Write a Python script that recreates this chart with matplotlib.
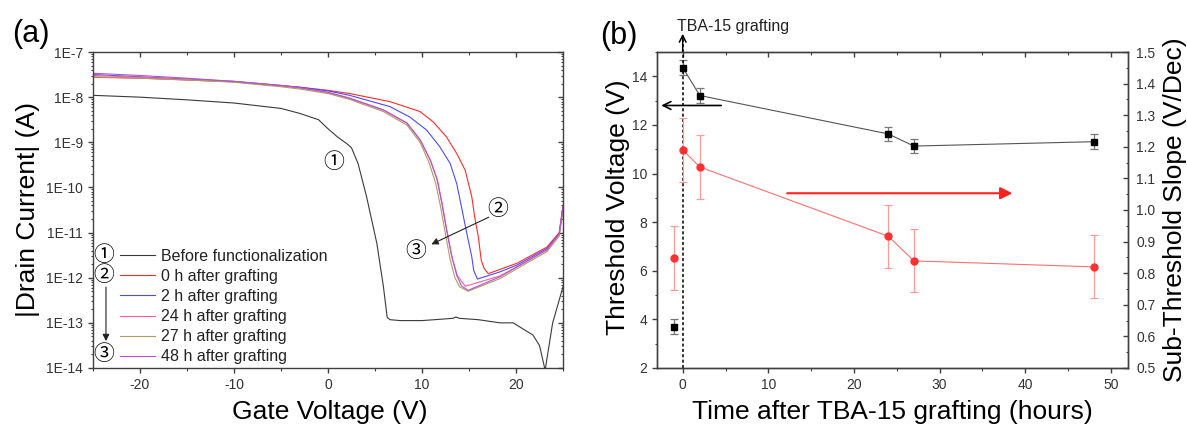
import numpy as np
import matplotlib
matplotlib.use('Agg')
import matplotlib.pyplot as plt
from matplotlib.ticker import FixedLocator, MultipleLocator, LogLocator, NullFormatter

plt.rcParams['font.family'] = ['Liberation Sans', 'DejaVu Sans']
plt.rcParams['axes.unicode_minus'] = False

# ---------------- Panel (a) data: gate voltage (V) and log10|Id| (A) ----------------
v_before = [-25, -20, -15, -10, -5, -3, -1, 0, 1, 2, 2.5, 3.2, 4.1, 5.2, 5.9, 6.3, 6.6, 7.7, 10,
            13.3, 13.6, 14, 16, 18.3, 19.7, 21.8, 22.5, 23.1, 23.9, 24.7, 25]
logi_before = [-7.96, -8.0, -8.06, -8.13, -8.25, -8.36, -8.5, -8.7, -8.88, -9.03, -9.12, -9.47, -10.2,
               -11.24, -12.2, -12.88, -12.93, -12.95, -12.95, -12.9, -12.87, -12.9, -12.93, -13.0,
               -13.0, -13.27, -13.5, -14.05, -13.0, -12.42, -12.2]

v_0h = [-25, -20, -15, -10, -5, -3, 0, 2.3, 6.6, 9.8, 11.2, 12.6, 13.7, 14.6, 15.3, 15.6, 16.0, 16.3,
        16.6, 17.05, 20.1, 23.3, 24.6, 25]
logi_0h = [-7.56, -7.58, -7.62, -7.66, -7.75, -7.78, -7.85, -7.92, -8.10, -8.32, -8.55, -8.88, -9.25,
           -9.62, -10.21, -10.65, -11.1, -11.61, -11.79, -11.91, -11.68, -11.32, -11.0, -10.4]

v_2h = [-25, -20, -15, -10, -5, -3, 0, 2.3, 6.6, 8.7, 10.5, 11.9, 13.0, 13.7, 14.2, 14.7, 15.3, 15.5,
        15.9, 18.3, 20.1, 23.3, 24.6, 25]
logi_2h = [-7.5, -7.55, -7.6, -7.65, -7.74, -7.78, -7.86, -7.96, -8.21, -8.44, -8.73, -9.1, -9.47,
           -9.92, -10.43, -10.95, -11.54, -11.84, -12.03, -11.87, -11.72, -11.35, -11.02, -10.42]

v_24h = [-25, -20, -15, -10, -5, -3, 0, 2.3, 5.9, 8.4, 9.8, 10.9, 11.65, 12.15, 12.65, 13.2, 13.75,
         14.6, 18.3, 20.1, 23.3, 24.6, 25]
logi_24h = [-7.52, -7.56, -7.61, -7.66, -7.75, -7.8, -7.9, -8.03, -8.29, -8.58, -8.95, -9.4, -9.84,
            -10.36, -10.95, -11.54, -11.95, -12.19, -11.96, -11.76, -11.38, -11.04, -10.45]

v_27h = [-25, -20, -15, -10, -5, -3, 0, 2.3, 5.9, 8.4, 9.8, 10.75, 11.45, 11.95, 12.45, 13.0, 13.5,
         14.0, 14.9, 18.3, 20.1, 23.3, 24.6, 25]
logi_27h = [-7.55, -7.58, -7.62, -7.67, -7.77, -7.82, -7.92, -8.05, -8.32, -8.62, -9.0, -9.45, -9.9,
            -10.4, -10.98, -11.6, -12.0, -12.2, -12.3, -12.02, -11.8, -11.42, -11.08, -10.5]

v_48h = [-25, -20, -15, -10, -5, -3, 0, 2.3, 5.9, 8.4, 9.8, 10.85, 11.6, 12.1, 12.6, 13.15, 13.7,
         14.2, 14.9, 18.3, 20.1, 23.3, 24.6, 25]
logi_48h = [-7.47, -7.52, -7.58, -7.65, -7.74, -7.79, -7.89, -8.02, -8.28, -8.57, -8.94, -9.38, -9.82,
            -10.34, -10.93, -11.52, -11.95, -12.18, -12.28, -11.98, -11.76, -11.38, -11.03, -10.45]

labels_a = ['Before functionalization', '0 h after grafting', '2 h after grafting',
            '24 h after grafting', '27 h after grafting', '48 h after grafting']
colors_a = ['#3a3a3a', '#ff2a2a', '#4a4aff', '#ff5aa8', '#a8a060', '#b455c8']

xticks_a = [-20, -10, 0, 10, 20]
yticks_a = [1e-14, 1e-13, 1e-12, 1e-11, 1e-10, 1e-9, 1e-8, 1e-7]
yticklabels_a = ['1E-14', '1E-13', '1E-12', '1E-11', '1E-10', '1E-9', '1E-8', '1E-7']

# ---------------- Panel (b) data ----------------
t_hours = [-1, 0, 2, 24, 27, 48]
vth = [3.7, 14.36, 13.21, 11.63, 11.13, 11.31]
vth_err = [0.3, 0.3, 0.3, 0.3, 0.3, 0.3]
ss = [0.848, 1.19, 1.136, 0.917, 0.839, 0.82]
ss_err = [0.1, 0.1, 0.1, 0.1, 0.1, 0.1]

TICK_C = '#333333'
SPINE_C = '#404040'
FS_LAB = 19
FS_TICK = 10
CJK = ['Noto Sans CJK SC', 'DejaVu Sans']
FS_CIRC = 15

fig = plt.figure(figsize=(11.87, 4.28), dpi=100)
axa = fig.add_axes([0.0783, 0.1402, 0.396, 0.7383])
axb = fig.add_axes([0.5535, 0.1402, 0.3968, 0.7383])


def style_spines(ax):
    for s in ax.spines.values():
        s.set_color(SPINE_C)
        s.set_linewidth(1.0)


# ---------------- Panel (a) ----------------
curves = [(v_before, logi_before), (v_0h, logi_0h), (v_2h, logi_2h),
          (v_24h, logi_24h), (v_27h, logi_27h), (v_48h, logi_48h)]
handles = []
for (v, li), lab, c in zip(curves, labels_a, colors_a):
    h, = axa.plot(v, 10.0 ** np.asarray(li), color=c, lw=0.8, label=lab)
    handles.append(h)

axa.set_yscale('log')
axa.set_xlim(-25, 25)
axa.set_ylim(1e-14, 1e-7)
axa.set_xticks(xticks_a)
axa.xaxis.set_minor_locator(MultipleLocator(5))
axa.set_yticks(yticks_a, yticklabels_a)
axa.yaxis.set_minor_locator(LogLocator(base=10, subs=np.arange(2, 10), numticks=20))
axa.yaxis.set_minor_formatter(NullFormatter())
axa.tick_params(which='both', direction='out', colors=SPINE_C, labelcolor=TICK_C,
                labelsize=FS_TICK, top=False, right=False)
axa.tick_params(which='major', length=3.6, width=1.0, pad=3.5)
axa.tick_params(which='minor', length=1.8, width=0.8)
style_spines(axa)

sa_top = axa.secondary_xaxis('top')
sa_top.set_xticks(xticks_a, [])
sa_top.xaxis.set_minor_locator(MultipleLocator(5))
sa_top.tick_params(which='both', direction='in', colors=SPINE_C)
sa_top.tick_params(which='major', length=3.6, width=1.0)
sa_top.tick_params(which='minor', length=1.8, width=0.8)
sa_top.spines['top'].set_visible(False)

sa_right = axa.secondary_yaxis('right')
sa_right.set_yticks(yticks_a, [])
sa_right.yaxis.set_minor_locator(LogLocator(base=10, subs=np.arange(2, 10), numticks=20))
sa_right.yaxis.set_minor_formatter(NullFormatter())
sa_right.tick_params(which='both', direction='in', colors=SPINE_C)
sa_right.tick_params(which='major', length=3.6, width=1.0)
sa_right.tick_params(which='minor', length=1.8, width=0.8)
sa_right.spines['right'].set_visible(False)

axa.set_xlabel('Gate Voltage (V)', fontsize=FS_LAB)
axa.set_ylabel('|Drain Current| (A)', fontsize=FS_LAB)
axa.xaxis.set_label_coords(0.504, -0.1)
axa.yaxis.set_label_coords(-0.113, 0.5)

leg = axa.legend(handles=handles, loc='upper left', bbox_to_anchor=(0.0574, 0.377),
                 frameon=False, fontsize=11.5, borderpad=0, borderaxespad=0,
                 handlelength=2.2, handletextpad=0.35, labelspacing=0.32)
for t in leg.get_texts():
    t.set_color('#222222')

# circled markers next to legend and on curves
axa.text(0.0234, 0.358, '\u2460', transform=axa.transAxes, ha='center', va='center', fontsize=FS_CIRC, family=CJK)
axa.text(0.0234, 0.295, '\u2461', transform=axa.transAxes, ha='center', va='center', fontsize=FS_CIRC, family=CJK)
axa.text(0.0234, 0.044, '\u2462', transform=axa.transAxes, ha='center', va='center', fontsize=FS_CIRC, family=CJK)
axa.annotate('', xy=(0.0277, 0.085), xytext=(0.0277, 0.256), xycoords='axes fraction',
             arrowprops=dict(arrowstyle='-|>', color='#222222', lw=0.8, mutation_scale=10,
                             shrinkA=0, shrinkB=0))
axa.text(0.64, 10 ** -9.44, '\u2460', ha='center', va='center', fontsize=FS_CIRC, family=CJK)
axa.text(18.1, 10 ** -10.48, '\u2461', ha='center', va='center', fontsize=FS_CIRC, family=CJK)
axa.text(9.36, 10 ** -11.41, '\u2462', ha='center', va='center', fontsize=FS_CIRC, family=CJK)
axa.annotate('', xy=(11.0, 10 ** -11.26), xytext=(17.1, 10 ** -10.66),
             arrowprops=dict(arrowstyle='-|>', color='#222222', lw=0.8, mutation_scale=10,
                             shrinkA=0, shrinkB=0))

# ---------------- Panel (b) ----------------
axb2 = axb.twinx()
# threshold voltage (black)
axb.errorbar(t_hours, vth, yerr=vth_err, fmt='none', ecolor='#777777', elinewidth=0.9,
             capsize=3, capthick=0.9, zorder=3)
axb.plot(t_hours[1:], vth[1:], color='#555555', lw=0.8, zorder=3)
axb.plot(t_hours, vth, 's', color='black', ms=5, zorder=4)

# sub-threshold slope (red)
axb2.errorbar(t_hours, ss, yerr=ss_err, fmt='none', ecolor='#ff9a9a', elinewidth=0.9,
              capsize=3, capthick=0.9, zorder=3)
axb2.plot(t_hours[1:], ss[1:], color='#ff7070', lw=0.8, zorder=3)
axb2.plot(t_hours, ss, 'o', color='#ff3030', ms=5, zorder=4)

axb.set_xlim(-3, 52)
axb.set_ylim(2, 15)
axb2.set_ylim(0.5, 1.5)
axb.set_xticks([0, 10, 20, 30, 40, 50])
axb.xaxis.set_minor_locator(MultipleLocator(5))
axb.set_yticks([2, 4, 6, 8, 10, 12, 14])
axb.yaxis.set_minor_locator(MultipleLocator(1))
axb2.set_yticks(np.round(np.arange(0.5, 1.51, 0.1), 1))
axb2.yaxis.set_minor_locator(MultipleLocator(0.05))

axb.tick_params(which='both', direction='out', colors=SPINE_C, labelcolor=TICK_C,
                labelsize=FS_TICK, top=False, right=False)
axb.tick_params(which='major', length=3.6, width=1.0, pad=3.5)
axb.tick_params(which='minor', length=1.8, width=0.8)
axb2.tick_params(which='both', direction='in', colors=SPINE_C, labelcolor=TICK_C,
                 labelsize=FS_TICK)
axb2.tick_params(which='major', length=3.6, width=1.0, pad=6)
axb2.tick_params(which='minor', length=1.8, width=0.8)
style_spines(axb)
style_spines(axb2)

sb_top = axb.secondary_xaxis('top')
sb_top.set_xticks([0, 10, 20, 30, 40, 50], [])
sb_top.xaxis.set_minor_locator(MultipleLocator(5))
sb_top.tick_params(which='both', direction='in', colors=SPINE_C)
sb_top.tick_params(which='major', length=3.6, width=1.0)
sb_top.tick_params(which='minor', length=1.8, width=0.8)
sb_top.spines['top'].set_visible(False)

axb.set_xlabel('Time after TBA-15 grafting (hours)', fontsize=FS_LAB)
axb.set_ylabel('Threshold Voltage (V)', fontsize=FS_LAB)
axb2.set_ylabel('Sub-Threshold Slope (V/Dec)', fontsize=FS_LAB)
axb.xaxis.set_label_coords(0.5, -0.1)
axb.yaxis.set_label_coords(-0.057, 0.51)
axb2.yaxis.set_label_coords(1.074, 0.5)

# vertical dashed line at grafting time with arrow head above the frame
axb.plot([0, 0], [2, 15.6], color='black', lw=1.1, ls=(0, (2, 1.5)), clip_on=False, zorder=5)
axb.annotate('', xy=(0, 15.75), xytext=(0, 15.0),
             arrowprops=dict(arrowstyle='->', color='black', lw=1.1, mutation_scale=12,
                             shrinkA=0, shrinkB=0), annotation_clip=False)
axb.text(-0.7, 16.03, 'TBA-15 grafting', fontsize=11.5, ha='left', va='center', color='#222222')

# axis-indicating arrows
axb.annotate('', xy=(-2.5, 12.8), xytext=(4.5, 12.8),
             arrowprops=dict(arrowstyle='->', color='black', lw=1.2, mutation_scale=14,
                             shrinkA=0, shrinkB=0))
axb2.annotate('', xy=(38.5, 1.053), xytext=(12.2, 1.053),
              arrowprops=dict(arrowstyle='-|>', color='#ff2020', lw=1.5, mutation_scale=18,
                              shrinkA=0, shrinkB=0))

# panel labels
fig.text(12 / 1187, 1 - 34 / 428, '(a)', fontsize=22, ha='left', va='center')
fig.text(600 / 1187, 1 - 36 / 428, '(b)', fontsize=22, ha='left', va='center')

fig.savefig('out.png', dpi=100)
